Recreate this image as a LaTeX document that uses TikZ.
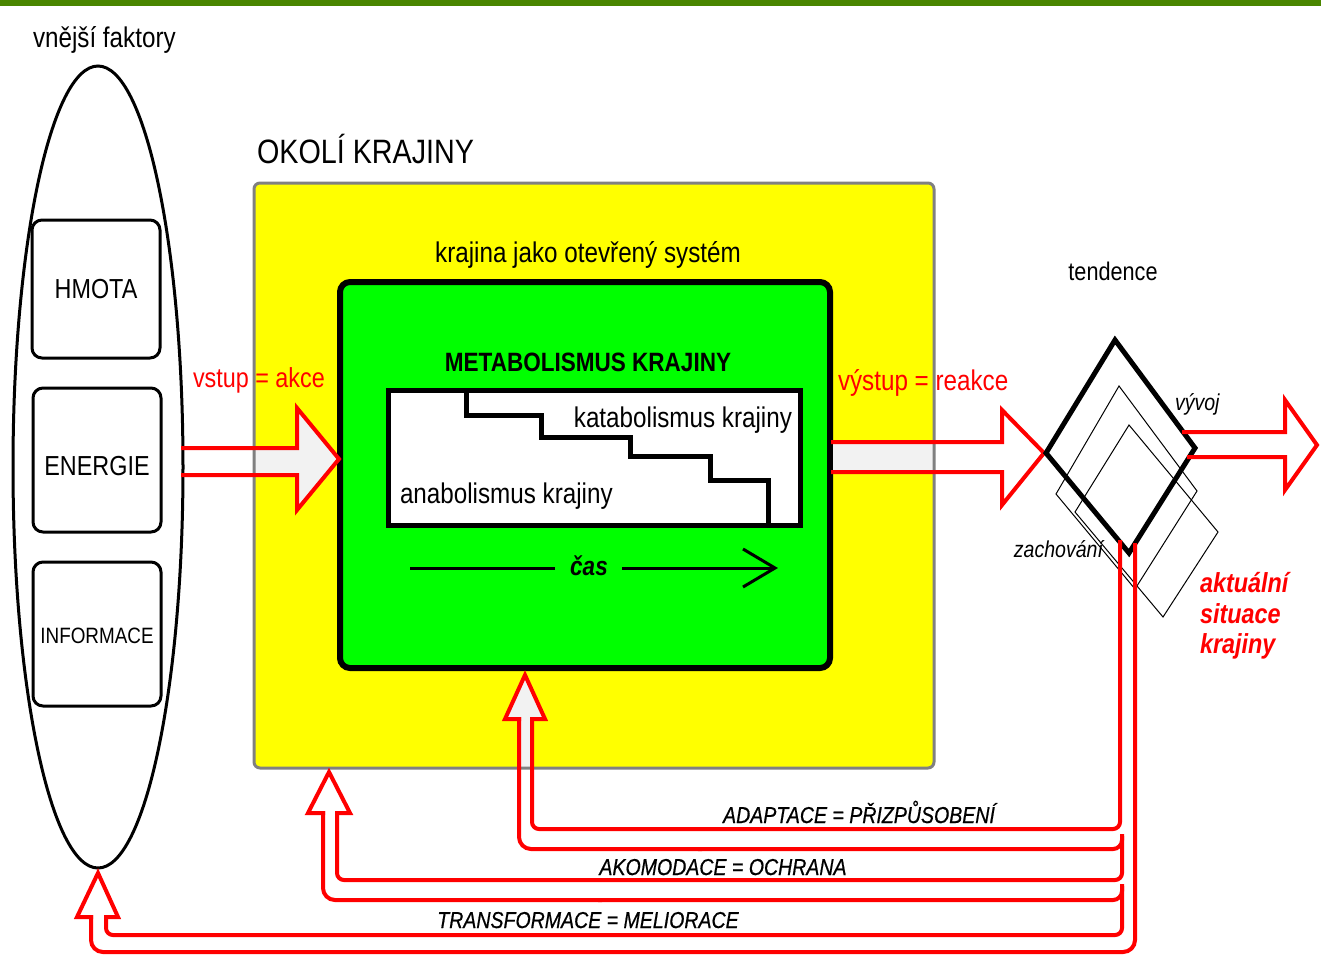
\documentclass[tikz,border=0pt]{standalone}
\usepackage{fontspec}
\setmainfont{Liberation Sans}[FakeStretch=0.85]
\newfontfamily\fbfont{Liberation Sans}[FakeStretch=0.85, FakeBold=0.6]
\definecolor{topgreen}{RGB}{74,134,0}
\definecolor{boxgreen}{RGB}{0,255,0}
\definecolor{boxyellow}{RGB}{255,255,0}
\definecolor{pipegray}{RGB}{242,242,242}
\definecolor{bordergray}{RGB}{128,128,128}
\newcommand\fsz[1]{\fontsize{#1}{#1}\selectfont}
\begin{document}
\begin{tikzpicture}[x=1pt,y=-1pt,
  txt/.style={inner sep=0pt, outer sep=0pt},
  factor/.style={draw, line width=3pt, rounded corners=10pt},
  redo/.style={draw=red, line width=4pt, line join=miter, line cap=rect},
  fbl/.style={draw=red, line width=4pt, line cap=rect},
  fbtxt/.style={txt, anchor=base, font=\fbfont\itshape\fsz{23}},
  thick5/.style={draw, line width=5pt},
  thin1/.style={draw, line width=1pt}]
\useasboundingbox (0,0) rectangle (1321,954);
% top bar
\fill[topgreen] (0,0) rectangle (1321,5.5);
% external factors
\draw[line width=3pt] (98,467) ellipse [x radius=85pt, y radius=401pt];
\draw[factor] (32,220) rectangle (160,358);
\draw[factor] (33,388) rectangle (161,532);
\draw[factor] (33,562) rectangle (161,706);
\node[txt, anchor=base west, font=\fsz{28.5}] (vf) at (33,47) {vnější faktory};
\node[txt, anchor=base, font=\fsz{27.5}] (hmota) at (96,298) {HMOTA};
\node[txt, anchor=base, font=\fsz{27.5}] (energie) at (97,475) {ENERGIE};
\node[txt, anchor=base, font=\fsz{22.2}] (informace) at (97,643) {INFORMACE};
% surroundings
\fill[boxyellow, rounded corners=6pt] (254,183) rectangle (934,768);
\draw[line width=6pt, fill=boxgreen, rounded corners=10pt] (340,282) rectangle (830,668);
\draw[thick5, fill=white] (388,390) rectangle (800,525);
\draw[thick5, line join=miter] (466,390) -- (466,415) -- (541,415) -- (541,437) -- (630,437) -- (630,456) -- (710,456) -- (710,480) -- (768,480) -- (768,525);
% arrow fills inside yellow
\fill[pipegray] (254,448) -- (297,448) -- (297,408) -- (339,459) -- (297,510) -- (297,475) -- (254,475) -- cycle;
\fill[pipegray] (833,442) -- (934,442) -- (934,472) -- (833,472) -- cycle;
\fill[pipegray] (519,768) -- (519,719) -- (505,719) -- (525,675) -- (545,719) -- (532,719) -- (532,768) -- cycle;
\draw[line width=3pt, draw=bordergray, rounded corners=6pt] (254,183) rectangle (934,768);
% texts in boxes
\node[txt, anchor=base west, font=\fsz{33.8}] (okoli) at (257,163) {OKOLÍ KRAJINY};
\node[txt, anchor=base, font=\fsz{28.5}] (otevr) at (588,262) {krajina jako otevřený systém};
\node[txt, anchor=base, font=\bfseries\fsz{26.5}] (metab) at (588,371) {METABOLISMUS KRAJINY};
\node[txt, anchor=base east, font=\fsz{28.5}] (katab) at (792,427) {katabolismus krajiny};
\node[txt, anchor=base west, font=\fsz{28.5}] (anab) at (400,503) {anabolismus krajiny};
\node[txt, anchor=base, font=\bfseries\itshape\fsz{26.5}] (cas) at (589,575) {čas};
\coordinate (tstart) at (410,568);
\coordinate (tend) at (775,568);
\draw[line width=3pt] (tstart) -- (555,568);
\draw[line width=3pt] (622,568) -- (tend);
\draw[line width=3pt, line join=miter] (743,549) -- (tend) -- (743,587);
% input arrow
\node[txt, anchor=base west, text=red, font=\fsz{27.5}] (vstup) at (193,387) {vstup = akce};
\draw[redo] (183,448) -- (297,448) -- (297,408) -- (339,459) -- (297,510) -- (297,475) -- (183,475);
% output arrow
\node[txt, anchor=base west, text=red, font=\fsz{28.5}] (vystup) at (838,390) {výstup = reakce};
\draw[redo] (833,442) -- (1002,442) -- (1002,410) -- (1044,453) -- (1002,505) -- (1002,472) -- (833,472);
% tendency diamonds
\draw[thin1] (1119,386) -- (1197,491) -- (1135,589) -- (1056,494) -- cycle;
\draw[thin1] (1129,425) -- (1218,532) -- (1163,617) -- (1075,512) -- cycle;
\draw[thick5, line join=miter] (1115,340) -- (1195,448) -- (1129,553) -- (1046,453) -- cycle;
\draw[redo] (1184,432) -- (1285,432) -- (1285,400) -- (1317,445) -- (1285,490) -- (1285,457) -- (1189,457);
\node[txt, anchor=base, font=\fsz{25.5}] (tendn) at (1113,280) {tendence};
\node[txt, anchor=base west, font=\itshape\fsz{23}] (vyvoj) at (1175,410) {vývoj};
\node[txt, anchor=base east, font=\itshape\fsz{23}] (zach) at (1103,557) {zachování};
\node[txt, anchor=base west, text=red, font=\bfseries\itshape\fsz{27.5}] (akt1) at (1200,592) {aktuální};
\node[txt, anchor=base west, text=red, font=\bfseries\itshape\fsz{27.5}] (akt2) at (1200,623) {situace};
\node[txt, anchor=base west, text=red, font=\bfseries\itshape\fsz{27.5}] (akt3) at (1200,653) {krajiny};
% feedback 1: adaptace
\draw[fbl, rounded corners=7pt] (1120,542) -- (1120,829) -- (532,829) -- (532,719);
\draw[redo] (532,719) -- (545,719) -- (525,675) -- (505,719) -- (519,719);
\draw[fbl, rounded corners=12pt] (519,719) -- (519,849) -- (700,849);
\draw[fbl, rounded corners=9pt] (700,849) -- (1122,849) -- (1122,836);
% feedback 2: akomodace
\draw[fbl, rounded corners=7pt] (1122,838) -- (1122,880) -- (337,880) -- (337,813);
\draw[redo] (337,813) -- (350,813) -- (329,772) -- (308,813) -- (323,813);
\draw[fbl, rounded corners=12pt] (323,813) -- (323,900) -- (600,900);
\draw[fbl, rounded corners=9pt] (600,900) -- (1122,900) -- (1122,886);
% feedback 3: transformace
\draw[fbl, rounded corners=7pt] (1122,888) -- (1122,935) -- (106,935) -- (106,917);
\draw[redo] (106,917) -- (118,917) -- (98,873) -- (77,917) -- (91,917);
\draw[fbl, rounded corners=12pt] (91,917) -- (91,952) -- (1135,952) -- (1135,545);
\node[fbtxt] (adapt) at (859,823) {ADAPTACE = PŘIZPŮSOBENÍ};
\node[fbtxt] (akom) at (723,875) {AKOMODACE = OCHRANA};
\node[fbtxt] (transf) at (588,928) {TRANSFORMACE = MELIORACE};
\end{tikzpicture}
\end{document}
